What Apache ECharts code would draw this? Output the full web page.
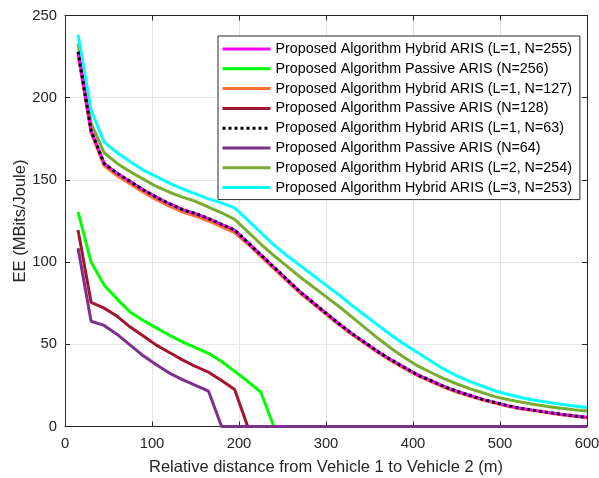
<!DOCTYPE html>
<html>
<head>
<meta charset="utf-8">
<script src="https://cdn.jsdelivr.net/npm/echarts@6/dist/echarts.min.js"></script>
<style>html,body{margin:0;padding:0;background:#fff}#c{width:599px;height:478px}</style>
</head>
<body>
<div id="c"></div>
<script>
const distances = [15,30,45,60,75,90,105,120,135,150,165,180,195,210,225,240,255,270,285,300,315,330,345,360,375,390,405,420,435,450,465,480,495,510,525,540,555,570,585,600];

const hybridL1N255 = [228,180,160,154,149,144,139.5,135.5,132,129.5,126.5,123,119.5,112,104.5,97,89.5,82,75.5,69,62.5,56.5,51,45.5,40.5,36,31.5,28,24.5,21.5,19,16.5,14.5,12.5,11,9.8,8.6,7.5,6.5,5.6];
const passiveN256 = [130.5,100,86,77.5,69.5,64.5,60,55.5,51.5,48,44.5,39.5,33.5,27.5,21,0,0,0,0,0,0,0,0,0,0,0,0,0,0,0,0,0,0,0,0,0,0,0,0,0];
const hybridL1N127 = [226.5,178.5,158.5,152.5,147.5,142.5,138,134,130.5,128,125,121.5,118,111,103.5,96,88.5,81.2,74.8,68.3,61.8,55.8,50.3,44.8,39.8,35.3,30.9,27.4,24,21,18.5,16.1,14.1,12.1,10.7,9.5,8.3,7.2,6.2,5.3];
const passiveN128 = [119.5,75.5,72,67,60.5,55,49.5,45,40.5,36.5,33,28,22.5,0,0,0,0,0,0,0,0,0,0,0,0,0,0,0,0,0,0,0,0,0,0,0,0,0,0,0];
const hybridL1N63 = [228,180,160,154,149,144,139.5,135.5,132,129.5,126.5,123,119.5,112,104.5,97,89.5,82,75.5,69,62.5,56.5,51,45.5,40.5,36,31.5,28,24.5,21.5,19,16.5,14.5,12.5,11,9.8,8.6,7.5,6.5,5.6];
const passiveN64 = [108.5,64,61.5,56,49.5,43,37.5,32.5,28.5,25,21.5,0,0,0,0,0,0,0,0,0,0,0,0,0,0,0,0,0,0,0,0,0,0,0,0,0,0,0,0,0];
const hybridL2N254 = [233,184.5,166.5,160,155,150.5,146,142.5,139.5,137,133.5,130,126,118.5,111,104,97.5,91,85,79,73,66.5,60,53.5,47.5,42,37,33,29.3,26,23,20.5,18,16.3,14.8,13.4,12.2,11.1,10.2,9.4];
const hybridL3N253 = [238.5,192.5,173,166.5,161,156,152,148,144.5,141.5,138.5,136,133,125.5,118,110.5,104,98,92,86,80,73.5,67.5,61.5,55.5,50,45,40,35,31,27.5,24.5,21.5,19.5,17.5,16,14.7,13.5,12.5,11.5];

const xTicks = [0,100,200,300,400,500,600];
const yTicks = [0,50,100,150,200,250];

const solidIcon = 'path://M0,0M48,14M0,5.5H48V8.5H0Z';
const dottedIcon = 'path://M0,0M48,14' + [0,6,12,18,24,30,36,42].map(x => 'M' + x + ',5.5h3v3h-3Z').join('');

const seriesDefs = [
  {name:'Proposed Algorithm Hybrid ARIS (L=1, N=255)', data:hybridL1N255, color:'#FF00FF', dotted:false, z:4},
  {name:'Proposed Algorithm Passive ARIS (N=256)', data:passiveN256, color:'#00FF00', dotted:false, z:2},
  {name:'Proposed Algorithm Hybrid ARIS (L=1, N=127)', data:hybridL1N127, color:'#FF7033', dotted:false, z:3},
  {name:'Proposed Algorithm Passive ARIS (N=128)', data:passiveN128, color:'#A2142F', dotted:false, z:2},
  {name:'Proposed Algorithm Hybrid ARIS (L=1, N=63)', data:hybridL1N63, color:'#000000', dotted:true, z:5},
  {name:'Proposed Algorithm Passive ARIS (N=64)', data:passiveN64, color:'#7E2F8E', dotted:false, z:2},
  {name:'Proposed Algorithm Hybrid ARIS (L=2, N=254)', data:hybridL2N254, color:'#77AC30', dotted:false, z:2},
  {name:'Proposed Algorithm Hybrid ARIS (L=3, N=253)', data:hybridL3N253, color:'#00FFFF', dotted:false, z:2}
];

const font = 'Liberation Sans, Arial, Helvetica, sans-serif';
const axisColor = '#262626';

const chart = echarts.init(document.getElementById('c'), null, {renderer:'canvas'});
const series = seriesDefs.map(s => ({
  name: s.name,
  type: 'line',
  data: distances.map((d,i) => [d, s.data[i]]),
  showSymbol: false,
  symbol: 'none',
  z: s.z,
  lineStyle: {color: s.color, width: 3, type: s.dotted ? [3,3] : 'solid'},
  itemStyle: {color: s.color},
  animation: false
}));

const baseX = {
  type:'value', min:0, max:600, interval:100,
  axisLine:{show:true, onZero:false, lineStyle:{color:axisColor, width:1}},
  axisTick:{show:true, inside:true, length:5, lineStyle:{color:axisColor}},
  splitLine:{show:false}
};
const baseY = {
  type:'value', min:0, max:250, interval:50,
  axisLine:{show:true, onZero:false, lineStyle:{color:axisColor, width:1}},
  axisTick:{show:true, inside:true, length:5, lineStyle:{color:axisColor}},
  splitLine:{show:false}
};

chart.setOption({
  animation:false,
  backgroundColor:'#fff',
  grid:{left:65, right:12, top:15.5, bottom:51.5, containLabel:false, outerBoundsMode:'none'},
  legend:{
    orient:'vertical', left:218, top:36,
    itemWidth:48, itemHeight:14, itemGap:5.8,
    itemTextGap:5,
    padding:[6,8,5,4.5],
    backgroundColor:'#fff', borderColor:'#262626', borderWidth:1,
    textStyle:{fontFamily:font, fontSize:14.3, color:'#000', lineHeight:14},
    data: seriesDefs.map(s => ({name:s.name, icon: s.dotted ? dottedIcon : solidIcon}))
  },
  xAxis:[
    Object.assign({}, baseX, {
      position:'bottom',
      splitLine:{show:true, lineStyle:{color:'#e6e6e6', width:1}},
      axisLabel:{color:axisColor, fontFamily:font, fontSize:14.8, margin:10,
        formatter: v => xTicks.includes(v) ? String(v) : ''},
      name:'Relative distance from Vehicle 1 to Vehicle 2 (m)',
      nameLocation:'middle', nameGap:32, nameMoveOverlap:false,
      nameTextStyle:{color:axisColor, fontFamily:font, fontSize:16.5}
    }),
    Object.assign({}, baseX, {position:'top', axisLabel:{show:false}})
  ],
  yAxis:[
    Object.assign({}, baseY, {
      position:'left',
      splitLine:{show:true, lineStyle:{color:'#e6e6e6', width:1}},
      axisLabel:{color:axisColor, fontFamily:font, fontSize:14.8, margin:8,
        formatter: v => yTicks.includes(v) ? String(v) : ''},
      name:'EE (MBits/Joule)',
      nameLocation:'middle', nameGap:36, nameMoveOverlap:false,
      nameTextStyle:{color:axisColor, fontFamily:font, fontSize:16.5}
    }),
    Object.assign({}, baseY, {position:'right', axisLabel:{show:false}})
  ],
  series: series
});
</script>
</body>
</html>
